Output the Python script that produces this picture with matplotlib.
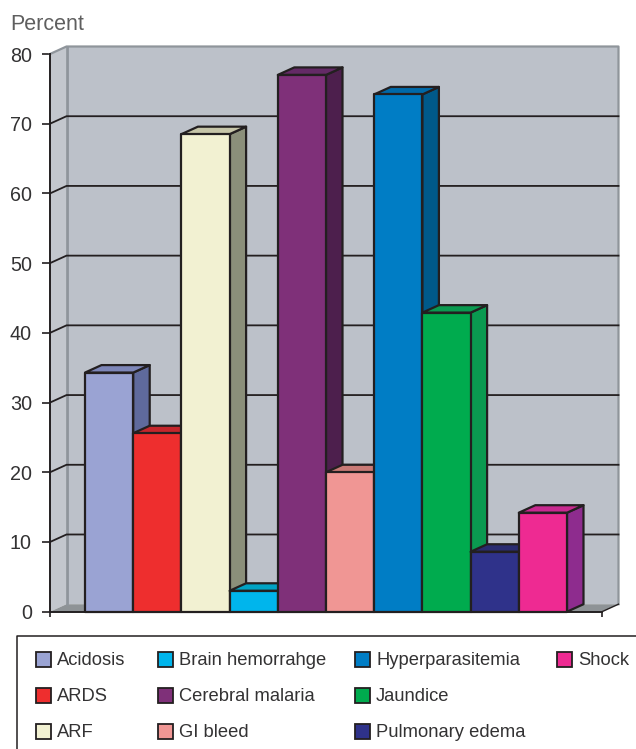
import matplotlib
matplotlib.use("Agg")
import matplotlib.pyplot as plt
from matplotlib.patches import Polygon, Rectangle

plt.rcParams['font.family'] = ['Liberation Sans', 'DejaVu Sans']

W, H = 636, 749

categories = ["Acidosis", "ARDS", "ARF", "Brain hemorrahge", "Cerebral malaria",
              "GI bleed", "Hyperparasitemia", "Jaundice", "Pulmonary edema", "Shock"]
values = [34.3, 25.6, 68.5, 3.0, 77.0, 20.0, 74.2, 42.9, 8.6, 14.2]
front_colors = ["#9aa3d3", "#ee2e2e", "#f2f1d2", "#00b5ec", "#7f3079",
                "#f09694", "#007dc5", "#00ab4e", "#2f328a", "#ee2a92"]
top_colors = ["#7d86b8", "#c4262c", "#c6c5a8", "#00a3c4", "#642a66",
              "#c97a76", "#0069a8", "#0a9a50", "#2a2c70", "#c92a90"]
side_colors = ["#5f6a9c", "#a32025", "#8b8f7a", "#0088a8", "#4d1f4d",
               "#a85c58", "#00598a", "#0a9a50", "#232560", "#8e2c8e"]
y_ticks = [0, 10, 20, 30, 40, 50, 60, 70, 80]

# Legend layout: (column x of the swatch, row y of its centre)
legend_cols = [36, 158, 355, 557]
legend_rows = [659.5, 695, 731]
legend_slots = [(0, 0), (0, 1), (0, 2), (1, 0), (1, 1), (1, 2), (2, 0), (2, 1), (2, 2), (3, 0)]

INK = "#231f20"
WALL = "#bcc1c9"
SIDE_WALL = "#c3c7cd"
WALL_EDGE = "#8f959b"
FLOOR = "#8e9396"
TEXT = "#333233"

fig = plt.figure(figsize=(W / 100, H / 100), dpi=100)
fig.patch.set_facecolor("white")

# Front plane of the chart: x 50..602 px, y 54..611.7 px
left, right, top, bottom = 50, 602, 54, 611.7
ax = fig.add_axes([left / W, 1 - bottom / H, (right - left) / W, (bottom - top) / H])
bar_w = 48.2
ax.set_xlim(-0.5 - 35 / bar_w, 9.5 + 35 / bar_w)
ax.set_ylim(0, 80)
ax.patch.set_visible(False)

# Depth offset of the 3D box, in data units
dx = 16.5 / bar_w
dy = 7.5 / ((bottom - top) / 80)
x0, x1 = ax.get_xlim()


def poly(pts, fc, ec="none", lw=0, z=1):
    ax.add_patch(Polygon(pts, closed=True, facecolor=fc, edgecolor=ec, linewidth=lw,
                         joinstyle="round", clip_on=False, zorder=z))


# Walls and floor
poly([(x0, 0), (x0 + dx, dy), (x0 + dx, 80 + dy), (x0, 80)], SIDE_WALL, z=1)
poly([(x0 + dx, dy), (x1 + dx, dy), (x1 + dx, 80 + dy), (x0 + dx, 80 + dy)], WALL, z=1)
poly([(x0, 0), (x1, 0), (x1 + dx, dy), (x0 + dx, dy)], FLOOR, z=1.5)

# Wall borders
ax.plot([x0, x0 + dx, x1 + dx, x1 + dx], [80, 80 + dy, 80 + dy, dy], color=WALL_EDGE,
        lw=1.6, clip_on=False, zorder=2)
ax.plot([x0 + dx, x0 + dx], [dy, 80 + dy], color=WALL_EDGE, lw=2.0, clip_on=False, zorder=2)

# Gridlines run across the side wall and the back wall
for t in y_ticks[1:-1]:
    ax.plot([x0, x0 + dx, x1 + dx], [t, t + dy, t + dy], color=INK, lw=1.3,
            clip_on=False, zorder=2.2)

# Bars, left to right so that each front face covers its neighbour's side
for i, v in enumerate(values):
    xl, xr = i - 0.5, i + 0.5
    z = 3 + i * 0.01
    ek = dict(ec=INK, lw=1.6, z=z)
    poly([(xr, 0), (xr + dx, dy), (xr + dx, v + dy), (xr, v)], side_colors[i], **ek)
    poly([(xl, v), (xr, v), (xr + dx, v + dy), (xl + dx, v + dy)], top_colors[i], **ek)
    poly([(xl, 0), (xr, 0), (xr, v), (xl, v)], front_colors[i], **ek)

# Axis lines
ax.plot([x0, x0], [0, 80], color=INK, lw=1.4, clip_on=False, zorder=4)
ax.plot([x0, x1], [0, 0], color=INK, lw=1.4, clip_on=False, zorder=4)
ax.plot([x1, x1 + dx], [0, dy], color=INK, lw=1.0, clip_on=False, zorder=2.3)

for s in ax.spines.values():
    s.set_visible(False)
ax.set_xticks([x0, x1])
ax.set_xticklabels([])
ax.tick_params(axis="x", length=3.5, width=1.2, color=INK, pad=0)
ax.set_yticks(y_ticks)
ax.set_yticklabels([str(t) for t in y_ticks], fontsize=14.2, color=TEXT)
ax.tick_params(axis="y", length=6, width=1.2, color=INK, pad=7)

# Overlay in pixel coordinates for the title text and the legend box
ov = fig.add_axes([0, 0, 1, 1])
ov.set_xlim(0, W)
ov.set_ylim(H, 0)
ov.axis("off")
ov.patch.set_visible(False)

ov.text(10.5, 24.5, "Percent", fontsize=15.5, color="#5f5f5f", va="center", ha="left")

ov.plot([W + 2, 16.7, 16.7], [635.7, 635.7, H + 2], color=INK, lw=1.1, clip_on=True)

for name, color, (c, r) in zip(categories, front_colors, legend_slots):
    sx, sy = legend_cols[c], legend_rows[r]
    ov.add_patch(Rectangle((sx, sy - 7.5), 15, 15, facecolor=color, edgecolor=INK, linewidth=1.3))
    ov.text(sx + 21, sy + 1.2, name, fontsize=13.2, color=TEXT, va="center", ha="left")

fig.savefig("out.png", dpi=100)
